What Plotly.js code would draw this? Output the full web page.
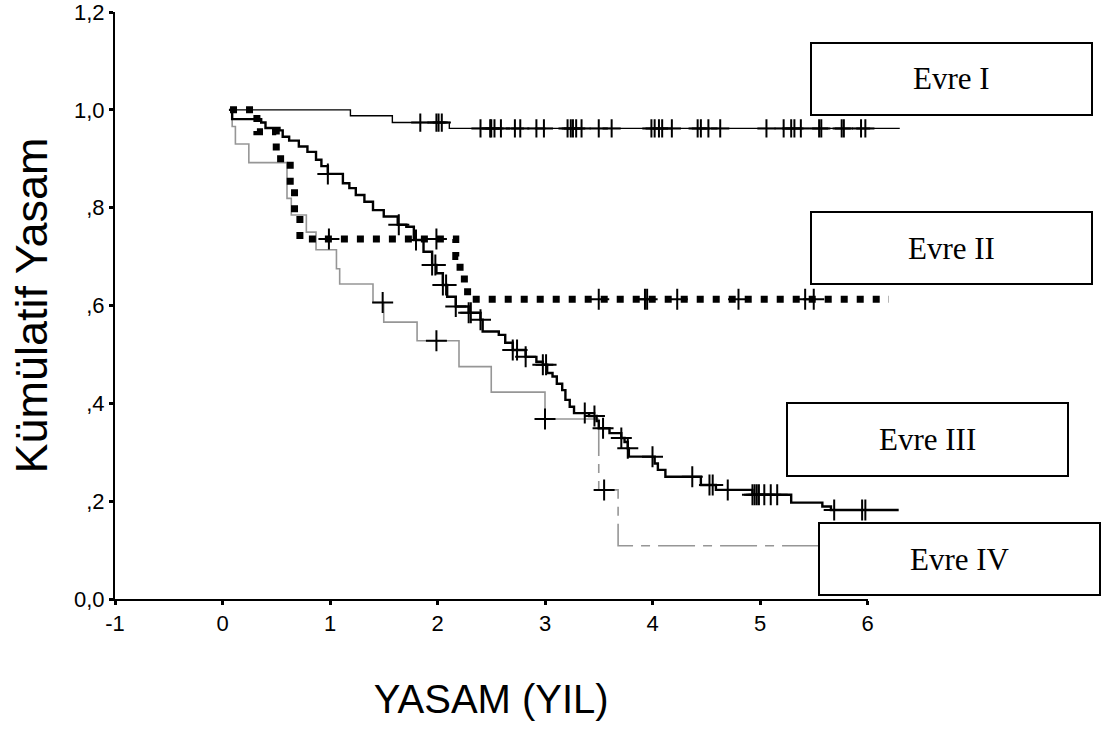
<!DOCTYPE html>
<html>
<head>
<meta charset="utf-8">
<script src="https://cdn.plot.ly/plotly-3.0.1.min.js"></script>
<style>html,body{margin:0;padding:0;background:#fff;}#chart{width:1112px;height:731px;}</style>
</head>
<body>
<div id="chart"></div>
<script>
// ---- Data (Kaplan-Meier steps, x in years) ----
const evre1X = [0.06, 1.19, 1.58, 2.11, 6.30];
const evre1Y = [1.0, 0.988, 0.974, 0.962, 0.962];
const evre1Censor = [1.84, 1.99, 2.01, 2.04, 2.40, 2.49, 2.50, 2.53, 2.59, 2.72, 2.77, 2.92, 2.99,
  3.21, 3.24, 3.26, 3.29, 3.34, 3.50, 3.62, 3.99, 4.02, 4.06, 4.09, 4.18, 4.42, 4.45, 4.52, 4.63,
  5.06, 5.22, 5.29, 5.32, 5.38, 5.55, 5.57, 5.76, 5.78, 5.94, 5.98];

const evre2X = [0.07, 0.32, 0.50, 0.63, 0.67, 0.72, 2.17, 2.21, 2.25, 2.28, 6.20];
const evre2Y = [1.0, 0.955, 0.90, 0.84, 0.79, 0.736, 0.70, 0.67, 0.645, 0.613, 0.613];
const evre2Censor = [0.99, 1.99, 3.50, 3.93, 3.95, 4.23, 4.80, 5.42, 5.50];

const evre3X = [0.06, 0.09, 0.36, 0.40, 0.53, 0.56, 0.62, 0.71, 0.79, 0.87, 0.92, 0.98, 1.12, 1.18,
  1.24, 1.32, 1.40, 1.50, 1.63, 1.71, 1.78, 1.87, 1.95, 1.99, 2.05, 2.09, 2.17, 2.29, 2.40, 2.42,
  2.57, 2.63, 2.70, 2.82, 2.92, 2.98, 3.02, 3.07, 3.11, 3.16, 3.19, 3.23, 3.27, 3.41, 3.48, 3.50,
  3.60, 3.71, 3.74, 3.77, 3.78, 4.02, 4.05, 4.12, 4.45, 4.59, 4.93, 5.29, 5.58, 5.66, 6.29];
const evre3Y = [1.0, 0.981, 0.974, 0.963, 0.958, 0.945, 0.937, 0.925, 0.914, 0.898, 0.885, 0.869,
  0.850, 0.840, 0.826, 0.812, 0.795, 0.782, 0.765, 0.761, 0.734, 0.710, 0.683, 0.666, 0.642, 0.618,
  0.598, 0.585, 0.571, 0.547, 0.540, 0.524, 0.509, 0.495, 0.485, 0.479, 0.462, 0.455, 0.440, 0.427,
  0.407, 0.393, 0.380, 0.374, 0.364, 0.349, 0.339, 0.329, 0.321, 0.308, 0.291, 0.277, 0.264, 0.250,
  0.233, 0.223, 0.213, 0.197, 0.189, 0.182, 0.182];
const evre3Censor = [0.98, 1.64, 1.80, 1.95, 1.98, 2.05, 2.08, 2.17, 2.29, 2.31, 2.40, 2.70, 2.74,
  2.82, 2.98, 3.01, 3.37, 3.46, 3.54, 3.71, 3.77, 4.00, 4.37, 4.53, 4.56, 4.70, 4.93, 4.95, 4.97,
  4.99, 5.04, 5.10, 5.16, 5.69, 5.95, 5.98];

const evre4X = [0.07, 0.09, 0.12, 0.245, 0.60, 0.64, 0.78, 0.87, 1.06, 1.09, 1.40, 1.50, 1.81, 2.20,
  2.50, 3.00, 3.50, 3.68, 6.30];
const evre4Y = [1.0, 0.966, 0.930, 0.892, 0.819, 0.785, 0.750, 0.714, 0.675, 0.644, 0.606, 0.566,
  0.528, 0.475, 0.423, 0.368, 0.223, 0.109, 0.109];
const evre4Censor = [1.49, 1.99, 3.00, 3.55];
const evre4DashFrom = 3.50; // style switches to dash-dot from this time on

const groupLabels = ['Evre I', 'Evre II', 'Evre III', 'Evre IV'];
const xTickVals = [-1, 0, 1, 2, 3, 4, 5, 6];
const yTickVals = [0, 0.2, 0.4, 0.6, 0.8, 1.0, 1.2];
const yTickText = ['0,0', ',2', ',4', ',6', ',8', '1,0', '1,2'];
const xTitle = 'YASAM (YIL)';
const yTitle = 'Kümülatif Yasam';

// ---- helpers ----
function stepAt(xs, ys, t) {
  let v = ys[0];
  for (let i = 0; i < xs.length; i++) { if (xs[i] <= t + 1e-9) v = ys[i]; }
  return v;
}
function censorTrace(xs, ys, cens, size, w) {
  return {
    x: cens, y: cens.map(t => stepAt(xs, ys, t)), xaxis: 'x2', yaxis: 'y',
    mode: 'markers', type: 'scatter', hoverinfo: 'skip', showlegend: false,
    marker: { symbol: 'cross-thin', size: size, color: '#000', line: { color: '#000', width: w } }
  };
}

const k = evre4X.indexOf(evre4DashFrom);
const g4SolidX = evre4X.slice(0, k).concat([evre4X[k]]);
const g4SolidY = evre4Y.slice(0, k).concat([evre4Y[k - 1]]);
const g4DashX = [evre4X[k]].concat(evre4X.slice(k));
const g4DashY = [evre4Y[k - 1]].concat(evre4Y.slice(k));

const traces = [
  // empty trace that makes the visible (-1..6) x axis own a subplot
  { x: [null], y: [null], xaxis: 'x', yaxis: 'y', type: 'scatter', mode: 'lines', hoverinfo: 'skip', showlegend: false },
  { x: g4SolidX, y: g4SolidY, xaxis: 'x2', yaxis: 'y', type: 'scatter', mode: 'lines', name: groupLabels[3],
    line: { shape: 'hv', color: '#969696', width: 1.6 } },
  { x: g4DashX, y: g4DashY, xaxis: 'x2', yaxis: 'y', type: 'scatter', mode: 'lines', name: groupLabels[3],
    line: { shape: 'hv', color: '#969696', width: 1.6, dash: '37px,8px,9px,8px' } },
  { x: evre2X, y: evre2Y, xaxis: 'x2', yaxis: 'y', type: 'scatter', mode: 'lines', name: groupLabels[1],
    line: { shape: 'hv', color: '#000', width: 7, dash: '7px,9px' } },
  { x: evre3X, y: evre3Y, xaxis: 'x2', yaxis: 'y', type: 'scatter', mode: 'lines', name: groupLabels[2],
    line: { shape: 'hv', color: '#000', width: 2.4 } },
  { x: evre1X, y: evre1Y, xaxis: 'x2', yaxis: 'y', type: 'scatter', mode: 'lines', name: groupLabels[0],
    line: { shape: 'hv', color: '#000', width: 1.4 } },
  censorTrace(evre4X, evre4Y, evre4Censor, 15, 2),
  censorTrace(evre2X, evre2Y, evre2Censor, 15, 2),
  censorTrace(evre3X, evre3Y, evre3Censor, 15, 2),
  censorTrace(evre1X, evre1Y, evre1Censor, 13, 2)
];

// ---- geometry (pixels) ----
const M = { l: 115, r: 0, t: 12, b: 132 };
const PW = 1112 - M.l - M.r, PH = 731 - M.t - M.b;
const pxPerYear = 107.5;
const px = v => (v - M.l) / PW;
const py = v => (731 - M.b - v) / PH;

const boxes = [
  { text: groupLabels[0], x0: 811, x1: 1092, y0: 43, y1: 115 },
  { text: groupLabels[1], x0: 811, x1: 1092, y0: 212, y1: 284 },
  { text: groupLabels[2], x0: 787, x1: 1068, y0: 403, y1: 476 },
  { text: groupLabels[3], x0: 819, x1: 1100, y0: 523, y1: 595 }
];
const shapes = boxes.map(b => ({
  type: 'rect', xref: 'paper', yref: 'paper', layer: 'above',
  x0: px(b.x0), x1: px(b.x1), y0: py(b.y1), y1: py(b.y0),
  fillcolor: '#fff', line: { color: '#000', width: 2 }
}));
const annotations = boxes.map(b => ({
  xref: 'paper', yref: 'paper', x: px((b.x0 + b.x1) / 2), y: py((b.y0 + b.y1) / 2),
  xanchor: 'center', yanchor: 'middle', showarrow: false, text: b.text,
  font: { family: 'Liberation Serif, Times New Roman, serif', size: 31, color: '#000' }
}));

const tickFont = { family: 'Arial, Liberation Sans, sans-serif', size: 22, color: '#000' };
const visSpan = xTickVals[xTickVals.length - 1] - xTickVals[0];
const layout = {
  width: 1112, height: 731, margin: M, showlegend: false,
  paper_bgcolor: '#fff', plot_bgcolor: '#fff',
  font: { family: 'Arial, Liberation Sans, sans-serif', size: 22, color: '#000' },
  xaxis: {
    domain: [0, visSpan * pxPerYear / PW], range: [xTickVals[0], xTickVals[xTickVals.length - 1]],
    anchor: 'y', tickmode: 'array', tickvals: xTickVals, ticktext: xTickVals.map(String),
    ticks: 'outside', ticklen: 4, tickwidth: 3, tickcolor: '#000', ticklabeloverflow: 'allow',
    showline: true, linewidth: 2, linecolor: '#000', showgrid: false, zeroline: false,
    tickfont: tickFont,
    title: { text: xTitle, font: { size: 40, color: '#000' }, standoff: 50 }
  },
  xaxis2: {
    domain: [0, 1], range: [xTickVals[0], xTickVals[0] + PW / pxPerYear], anchor: 'y',
    visible: false, showgrid: false, zeroline: false
  },
  yaxis: {
    range: [yTickVals[0], yTickVals[yTickVals.length - 1]], anchor: 'x',
    tickmode: 'array', tickvals: yTickVals, ticktext: yTickText,
    ticks: 'outside', ticklen: 4, tickwidth: 3, tickcolor: '#000', ticklabeloverflow: 'allow',
    showline: true, linewidth: 2, linecolor: '#000', showgrid: false, zeroline: false,
    tickfont: tickFont,
    title: { text: yTitle, font: { size: 45, color: '#000' }, standoff: 12 }
  },
  shapes: shapes,
  annotations: annotations
};

Plotly.newPlot('chart', traces, layout, { staticPlot: true, displayModeBar: false });
</script>
</body>
</html>
